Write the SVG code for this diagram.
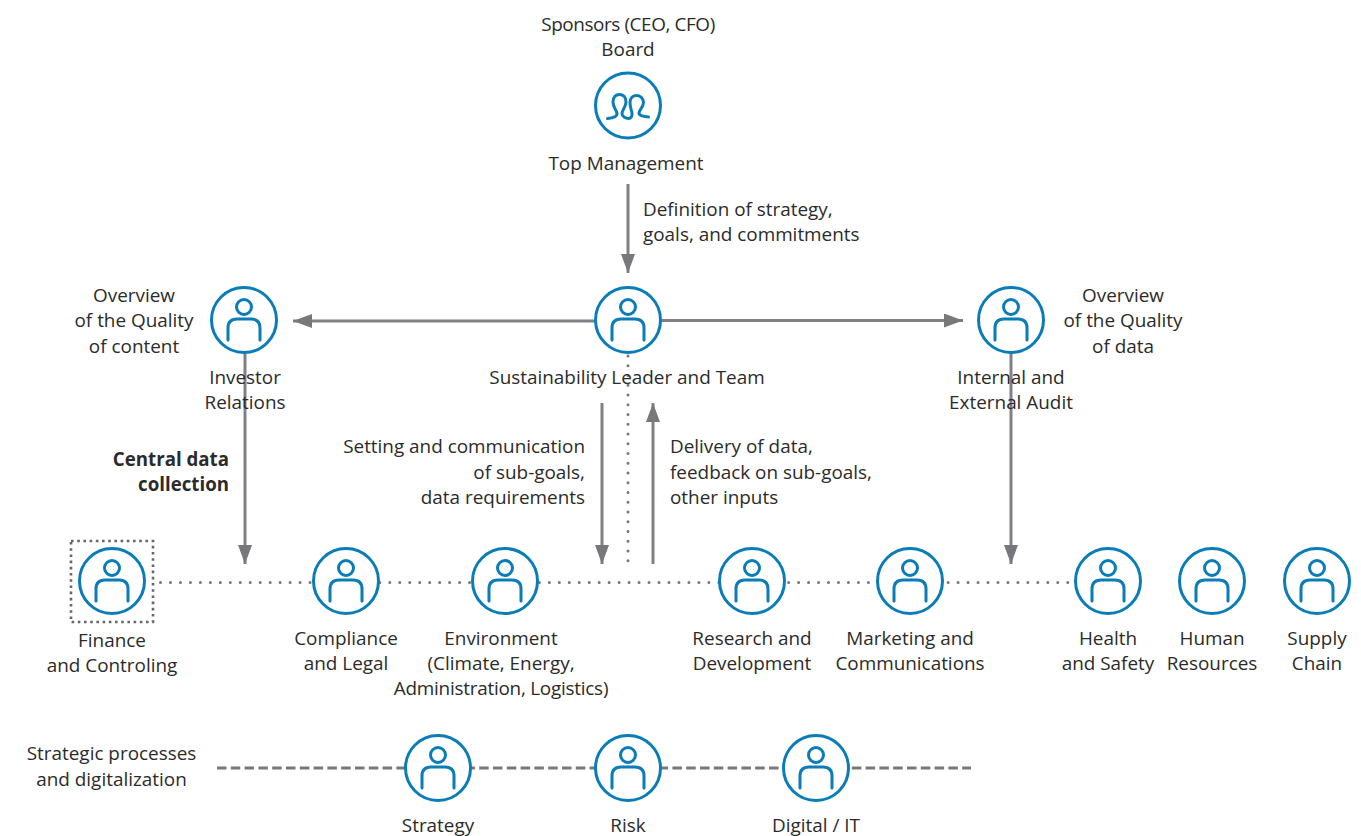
<svg xmlns="http://www.w3.org/2000/svg" xmlns:xlink="http://www.w3.org/1999/xlink" width="1361" height="836" viewBox="0 0 1361 836">
<style>
text{font-family:"Open Sans","Liberation Sans",sans-serif;font-size:18.9px;fill:#2b2b2b}
.m{text-anchor:middle}.e{text-anchor:end}.b{font-weight:700;font-size:18.7px}
.ring{fill:#fff;stroke:#0a7db8;stroke-width:3}
.ico{fill:none;stroke:#0a7db8;stroke-width:3;stroke-linecap:round;stroke-linejoin:round}
.ar{fill:none;stroke:#808085;stroke-width:3}
.dot{fill:none;stroke:#77777c;stroke-width:3;stroke-linecap:round;stroke-dasharray:0 9.970}
.dotv{fill:none;stroke:#77777c;stroke-width:3;stroke-linecap:round;stroke-dasharray:0 9.750}
.box{fill:none;stroke:#66666b;stroke-width:2.6;stroke-dasharray:2.6 3.6}
.dash{fill:none;stroke:#77777c;stroke-width:3;stroke-dasharray:9.500 4.300}
</style>
<defs>
<marker id="ah" markerUnits="userSpaceOnUse" markerWidth="20" markerHeight="14" refX="19" refY="7" orient="auto"><path d="M0 0L19 7L0 14L0 0Z" fill="#77777c"/></marker>
<g id="person"><circle class="ring" r="32.5"/><circle class="ico" cy="-13" r="7.5"/><path class="ico" d="M-16 20V8Q-16 -1 -7 -1H7Q16 -1 16 8V20"/></g>
</defs>
<g id="connectors">
<path class="dot" d="M155 582.500V582.500M160.500 582.500H1072"/>
<path class="dotv" d="M628 356V561M628 573V573"/>
<path class="dash" d="M217 768H971"/>
<path class="ar" marker-end="url(#ah)" d="M628 184V273"/>
<path class="ar" marker-end="url(#ah)" d="M596 321H293"/>
<path class="ar" marker-end="url(#ah)" d="M660 320.500H963"/>
<path class="ar" marker-end="url(#ah)" d="M245 352V564"/>
<path class="ar" marker-end="url(#ah)" d="M1011 352V564"/>
<path class="ar" marker-end="url(#ah)" d="M602 403V564"/>
<path class="ar" marker-end="url(#ah)" d="M653 564V403"/>
</g>
<g id="top-management"><circle class="ring" cx="628" cy="105.500" r="32.500"/>
<path class="ico" d="M607.500 118.500C612 118 617 117 617 114C617 110 613 108 613 102C613 97 616 94.500 619.500 94.500C623 94.500 626 97 626 102C626 107 622 110 622 113.500C622 117 626 118.500 628.500 118.500C631 118.500 632.500 116 632 113C631.500 110 630 107 630 102.500C630 98 633 95.500 636.500 95.500C640 95.500 643.500 98 643.500 102.500C643.500 107 639 110 639 113C639 116 644 116.500 648.500 117"/>
<text class="m" x="628" y="31" style="letter-spacing:-0.4px">Sponsors (CEO, CFO)</text><text class="m" x="628" y="56">Board</text><text class="m" x="626" y="170">Top Management</text></g>
<g id="sustainability-leader"><use xlink:href="#person" href="#person" x="628" y="320"/><text class="m" x="627" y="384">Sustainability Leader and Team</text></g>
<g id="investor-relations"><use xlink:href="#person" href="#person" x="244" y="320"/><text class="m" x="245" y="384">Investor</text><text class="m" x="245" y="409">Relations</text></g>
<g id="audit"><use xlink:href="#person" href="#person" x="1011" y="320"/><text class="m" x="1011" y="384">Internal and</text><text class="m" x="1011" y="409">External Audit</text></g>
<g id="finance"><rect class="box" x="71" y="541" width="82" height="81"/><use xlink:href="#person" href="#person" x="112" y="581"/><text class="m" x="112" y="647">Finance</text><text class="m" x="112" y="672">and Controling</text></g>
<g id="compliance"><use xlink:href="#person" href="#person" x="346" y="581"/><text class="m" x="346" y="645">Compliance</text><text class="m" x="346" y="670">and Legal</text></g>
<g id="environment"><use xlink:href="#person" href="#person" x="505" y="581"/><text class="m" x="501" y="645">Environment</text><text class="m" x="501" y="670">(Climate, Energy,</text><text class="m" x="501" y="695" style="letter-spacing:-0.24px">Administration, Logistics)</text></g>
<g id="research"><use xlink:href="#person" href="#person" x="752" y="581"/><text class="m" x="752" y="645">Research and</text><text class="m" x="752" y="670">Development</text></g>
<g id="marketing"><use xlink:href="#person" href="#person" x="910" y="581"/><text class="m" x="910" y="645">Marketing and</text><text class="m" x="910" y="670">Communications</text></g>
<g id="health"><use xlink:href="#person" href="#person" x="1108" y="581"/><text class="m" x="1108" y="645">Health</text><text class="m" x="1108" y="670">and Safety</text></g>
<g id="hr"><use xlink:href="#person" href="#person" x="1212" y="581"/><text class="m" x="1212" y="645">Human</text><text class="m" x="1212" y="670">Resources</text></g>
<g id="supply"><use xlink:href="#person" href="#person" x="1317" y="581"/><text class="m" x="1317" y="645">Supply</text><text class="m" x="1317" y="670">Chain</text></g>
<g id="strategy"><use xlink:href="#person" href="#person" x="438" y="768"/><text class="m" x="438" y="832">Strategy</text></g>
<g id="risk"><use xlink:href="#person" href="#person" x="628" y="768"/><text class="m" x="628" y="832">Risk</text></g>
<g id="digital"><use xlink:href="#person" href="#person" x="816" y="768"/><text class="m" x="816" y="832">Digital / IT</text></g>
<g id="labels">
<text x="643" y="216">Definition of strategy,</text><text x="643" y="241">goals, and commitments</text>
<text class="m" x="134" y="302">Overview</text><text class="m" x="134" y="327">of the Quality</text><text class="m" x="134" y="353">of content</text>
<text class="m" x="1123" y="302">Overview</text><text class="m" x="1123" y="327">of the Quality</text><text class="m" x="1123" y="353">of data</text>
<text class="e b" x="229" y="466">Central data</text><text class="e b" x="229" y="491">collection</text>
<text class="e" x="585" y="453">Setting and communication</text><text class="e" x="585" y="479">of sub-goals,</text><text class="e" x="585" y="504">data requirements</text>
<text x="670" y="453">Delivery of data,</text><text x="670" y="479">feedback on sub-goals,</text><text x="670" y="504">other inputs</text>
<text class="m" x="111.500" y="760">Strategic processes</text><text class="m" x="111.500" y="786">and digitalization</text>
</g>
</svg>
